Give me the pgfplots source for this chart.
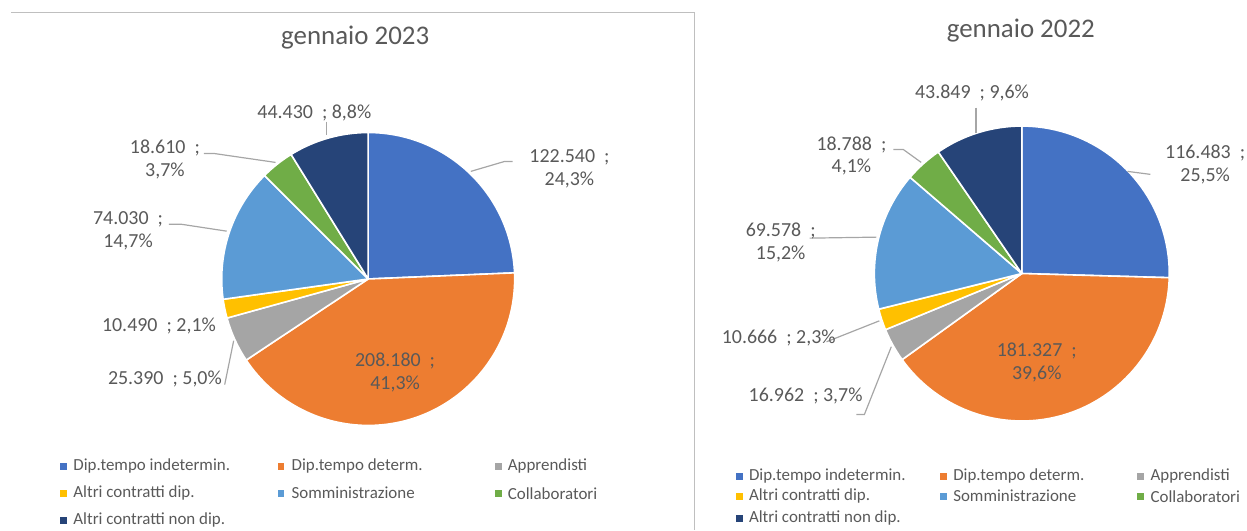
\documentclass[border=0pt]{standalone}
\usepackage{pgfplots}
\pgfplotsset{compat=1.18}
\usepackage{pgfplotstable}
\usepackage{fontspec}
\setmainfont{Carlito}

\definecolor{c1}{HTML}{4472C4}
\definecolor{c2}{HTML}{ED7D31}
\definecolor{c3}{HTML}{A5A5A5}
\definecolor{c4}{HTML}{FFC000}
\definecolor{c5}{HTML}{5B9BD5}
\definecolor{c6}{HTML}{70AD47}
\definecolor{c7}{HTML}{264478}
\definecolor{txt}{HTML}{595959}
\definecolor{lead}{HTML}{A6A6A6}
\definecolor{frame}{HTML}{BFBFBF}

\tikzset{
  lbl/.style={text=txt, align=center, font=\fontsize{20bp}{23bp}\selectfont, inner sep=0pt},
  leg/.style={text=txt, anchor=west, inner sep=0pt},
}

% values in thousands (gennaio 2023)
\pgfplotstableread{
value
122.540
208.180
25.390
10.490
74.030
18.610
44.430
}\dataA
% values in thousands (gennaio 2022)
\pgfplotstableread{
value
116.483
181.327
16.962
10.666
69.578
18.788
43.849
}\dataB

\newcommand\computeangles[2]{%
  \gdef\tot{0}%
  \foreach \i in {0,...,6}{\pgfplotstablegetelem{\i}{value}\of{#1}\pgfmathsetmacro\myT{\tot+\pgfplotsretval}\xdef\tot{\myT}}%
  \gdef\cum{0}%
  \foreach \i in {0,...,6}{%
    \pgfplotstablegetelem{\i}{value}\of{#1}%
    \pgfmathsetmacro\myS{90-360*(\cum/\tot)}%
    \pgfmathsetmacro\myC{\cum+\pgfplotsretval}\xdef\cum{\myC}%
    \pgfmathsetmacro\myE{90-360*(\cum/\tot)}%
    \expandafter\xdef\csname #2s\i\endcsname{\myS}%
    \expandafter\xdef\csname #2e\i\endcsname{\myE}%
  }%
}
\newcommand\pieslice[6]{%
  \filldraw[fill=#3,draw=white,line width=1.6pt,line join=round]
    (axis cs:#4,#5) -- ([shift={(\csname #1s#2\endcsname:#6bp)}]axis cs:#4,#5)
    arc[start angle=\csname #1s#2\endcsname, end angle=\csname #1e#2\endcsname, radius=#6bp] -- cycle;}

\begin{document}
\computeangles{\dataA}{A}
\computeangles{\dataB}{B}
\begin{tikzpicture}
\useasboundingbox (0,0) rectangle (1247bp,532bp);
\begin{axis}[
  at={(0,0)}, anchor=south west,
  width=1247bp, height=532bp, scale only axis,
  xmin=0, xmax=1247, ymin=0, ymax=532,
  hide axis, clip=false,
]
% frame of left chart
\draw[frame, line width=1bp] (axis cs:7,519) -- (axis cs:692,519) -- (axis cs:692,0);

% ---------- gennaio 2023 ----------
\node[text=txt, font=\fontsize{27bp}{30bp}\selectfont] at (axis cs:352,494) {gennaio 2023};
\pieslice{A}{0}{c1}{365}{252}{147}
\pieslice{A}{1}{c2}{365}{252}{147}
\pieslice{A}{2}{c3}{365}{252}{147}
\pieslice{A}{3}{c4}{365}{252}{147}
\pieslice{A}{4}{c5}{365}{252}{147}
\pieslice{A}{5}{c6}{365}{252}{147}
\pieslice{A}{6}{c7}{365}{252}{147}

\draw[lead, line width=1.2bp] (axis cs:468,360) -- (axis cs:502,370) -- (axis cs:510,370);
\draw[lead, line width=1.2bp] (axis cs:323,410) -- (axis cs:323,397);
\draw[lead, line width=1.2bp] (axis cs:200,378) -- (axis cs:210,378) -- (axis cs:272,369);
\draw[lead, line width=1.2bp] (axis cs:165,307) -- (axis cs:177,307) -- (axis cs:223,300);
\draw[lead, line width=1.2bp] (axis cs:221,146) -- (axis cs:230,190);

\node[lbl] at (axis cs:567,362.5) {122.540~~;\\24,3\%};
\node[lbl] at (axis cs:392,158.5) {208.180~~;\\41,3\%};
\node[lbl] at (axis cs:161,152) {25.390~~; 5,0\%};
\node[lbl] at (axis cs:155,205) {10.490~~; 2,1\%};
\node[lbl] at (axis cs:124,300.5) {74.030~~;\\14,7\%};
\node[lbl] at (axis cs:161,372) {18.610~~;\\3,7\%};
\node[lbl] at (axis cs:311,419) {44.430~~; 8,8\%};

% legend left
\begin{scope}[font=\fontsize{17bp}{20bp}\selectfont]
\fill[c1] (axis cs:56,60.5) rectangle (axis cs:63,67.5);
\node[leg] at (axis cs:69,64) {Dip.tempo indetermin.};
\fill[c2] (axis cs:274,60.5) rectangle (axis cs:281,67.5);
\node[leg] at (axis cs:288,64) {Dip.tempo determ.};
\fill[c3] (axis cs:492,60.5) rectangle (axis cs:499,67.5);
\node[leg] at (axis cs:505,64) {Apprendisti};
\fill[c4] (axis cs:56,33.5) rectangle (axis cs:63,40.5);
\node[leg] at (axis cs:69,37) {Altri contratti dip.};
\fill[c5] (axis cs:274,33.5) rectangle (axis cs:281,40.5);
\node[leg] at (axis cs:288,37) {Somministrazione};
\fill[c6] (axis cs:492,33.5) rectangle (axis cs:499,40.5);
\node[leg] at (axis cs:505,37) {Collaboratori};
\fill[c7] (axis cs:56,6.5) rectangle (axis cs:63,13.5);
\node[leg] at (axis cs:69,10) {Altri contratti non dip.};
\end{scope}

% ---------- gennaio 2022 ----------
\node[text=txt, font=\fontsize{27bp}{30bp}\selectfont] at (axis cs:1020,501) {gennaio 2022};
\pieslice{B}{0}{c1}{1021}{257.5}{148}
\pieslice{B}{1}{c2}{1021}{257.5}{148}
\pieslice{B}{2}{c3}{1021}{257.5}{148}
\pieslice{B}{3}{c4}{1021}{257.5}{148}
\pieslice{B}{4}{c5}{1021}{257.5}{148}
\pieslice{B}{5}{c6}{1021}{257.5}{148}
\pieslice{B}{6}{c7}{1021}{257.5}{148}

\draw[lead, line width=1.2bp] (axis cs:1127,360) -- (axis cs:1150,357);
\draw[lead, line width=1.2bp] (axis cs:975,424) -- (axis cs:975,399);
\draw[lead, line width=1.2bp] (axis cs:892,382) -- (axis cs:902,382) -- (axis cs:920,369);
\draw[lead, line width=1.2bp] (axis cs:808,293) -- (axis cs:875,294);
\draw[lead, line width=1.2bp] (axis cs:825,189) -- (axis cs:878,210);
\draw[lead, line width=1.2bp] (axis cs:855,116) -- (axis cs:863,116) -- (axis cs:890,184);

\node[lbl] at (axis cs:1205,367) {116.483~~;\\25,5\%};
\node[lbl] at (axis cs:1036,168) {181.327~~;\\39,6\%};
\node[lbl] at (axis cs:804,135) {16.962~~; 3,7\%};
\node[lbl] at (axis cs:777,193) {10.666~~; 2,3\%};
\node[lbl] at (axis cs:779,288.5) {69.578~~;\\15,2\%};
\node[lbl] at (axis cs:850,375.5) {18.788~~;\\4,1\%};
\node[lbl] at (axis cs:971,439) {43.849~~; 9,6\%};

% legend right
\begin{scope}[font=\fontsize{17bp}{20bp}\selectfont]
\fill[c1] (axis cs:734,50.5) rectangle (axis cs:741,57.5);
\node[leg] at (axis cs:747,54) {Dip.tempo indetermin.};
\fill[c2] (axis cs:939,50.5) rectangle (axis cs:946,57.5);
\node[leg] at (axis cs:952,54) {Dip.tempo determ.};
\fill[c3] (axis cs:1137,50.5) rectangle (axis cs:1144,57.5);
\node[leg] at (axis cs:1150,54) {Apprendisti};
\fill[c4] (axis cs:734,30.5) rectangle (axis cs:741,37.5);
\node[leg] at (axis cs:747,34) {Altri contratti dip.};
\fill[c5] (axis cs:939,30.5) rectangle (axis cs:946,37.5);
\node[leg] at (axis cs:952,34) {Somministrazione};
\fill[c6] (axis cs:1137,30.5) rectangle (axis cs:1144,37.5);
\node[leg] at (axis cs:1150,34) {Collaboratori};
\fill[c7] (axis cs:734,8.5) rectangle (axis cs:741,15.5);
\node[leg] at (axis cs:747,12) {Altri contratti non dip.};
\end{scope}
\end{axis}
\end{tikzpicture}
\end{document}
